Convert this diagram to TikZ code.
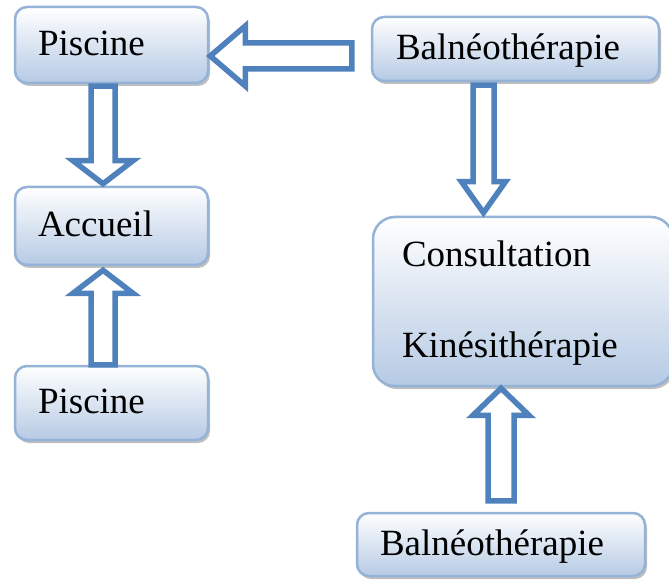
\documentclass[tikz,border=0pt]{standalone}
\usepackage{fontspec}
\setmainfont{Liberation Serif}
\usetikzlibrary{calc, shadows}
\definecolor{arrowblue}{RGB}{79,129,189}
\definecolor{boxline}{RGB}{149,179,215}
\definecolor{boxfill}{RGB}{182,202,228}
\newcommand{\hollowarrow}[5]{%
  \coordinate (hb) at ($(#5)!#3!(#4)$);
  \draw[hollow] ($(#4)!#1!90:(#5)$) -- ($(hb)!#1!90:(#5)$) -- ($(hb)!#2!90:(#5)$) -- (#5)
    -- ($(hb)!#2!-90:(#5)$) -- ($(hb)!#1!-90:(#5)$) -- ($(#4)!#1!-90:(#5)$) -- cycle;}
\begin{document}
\begin{tikzpicture}[x=1pt, y=-1pt]
        \tikzstyle{box} = [draw = boxline, line width = 2.5pt, rounded corners = 12pt, top color = white, bottom color = boxfill,
          drop shadow = {shadow xshift = 2pt, shadow yshift = -3pt, fill = black!50}, font = \fontsize{37pt}{44pt}\selectfont,
          text height = 25pt, text depth = 4pt, inner ysep = 0pt, align = left]
        \tikzstyle{hollow} = [draw = arrowblue, line width = 5.5pt, fill = white, line join = miter]
        \useasboundingbox (0,0) rectangle (669,585);
        \node[box, inner xsep = 23pt, text width = 147pt, minimum height = 76pt] (pis1) at (111.5,45) {Piscine};
        \node[box, inner xsep = 23pt, text width = 147pt, minimum height = 78pt] (acc) at (111.5,226) {Accueil};
        \node[box, inner xsep = 23pt, text width = 147pt, minimum height = 74pt] (pis2) at (111.5,403) {Piscine};
        \node[box, inner xsep = 24pt, text width = 239pt, minimum height = 64pt] (bal1) at (515.5,49) {Balnéothérapie};
        \node[box, inner xsep = 29pt, text width = 242pt, minimum height = 169pt, rounded corners = 22pt, text depth = 94pt] (cons)
          at (523,301.5) {Consultation\\[46pt]Kinésithérapie};
        \node[box, inner xsep = 23pt, text width = 242pt, minimum height = 63pt] (bal2) at (501,544.5) {Balnéothérapie};
        \coordinate (s1) at ($(bal1.west)+(-19,7)$);
        \coordinate (t1) at ($(pis1.east)+(1,11)$);
        \coordinate (s2) at ($(pis1.south)+(-8.5,2)$);
        \coordinate (t2) at ($(acc.north)+(-8.5,-2)$);
        \coordinate (s3) at ($(pis2.north)+(-8.5,0)$);
        \coordinate (t3) at ($(acc.south)+(-8.5,4)$);
        \coordinate (s4) at ($(bal1.south)+(-32,3)$);
        \coordinate (t4) at ($(cons.north)+(-39.5,-3)$);
        \coordinate (s5) at ($(bal2.north)+(0,-11)$);
        \coordinate (t5) at ($(cons.south)+(-22,1)$);
        \hollowarrow{13pt}{30pt}{35pt}{s1}{t1}
        \hollowarrow{12pt}{30pt}{23pt}{s2}{t2}
        \hollowarrow{12pt}{30pt}{23pt}{s3}{t3}
        \hollowarrow{10.5pt}{22pt}{31pt}{s4}{t4}
        \hollowarrow{13pt}{28pt}{27pt}{s5}{t5}
      \end{tikzpicture}
\end{document}
